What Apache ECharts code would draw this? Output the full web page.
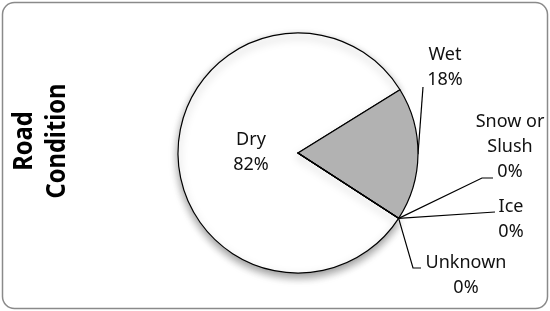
<!DOCTYPE html>
<html>
<head>
<meta charset="utf-8">
<script src="https://cdn.jsdelivr.net/npm/echarts@6/dist/echarts.min.js"></script>
<style>
  html, body { margin: 0; padding: 0; background: #fff; }
  #main { width: 550px; height: 311px; }
</style>
</head>
<body>
<div id="main"></div>
<script>
// data
var categories = ["Dry", "Wet", "Snow or\nSlush", "Ice", "Unknown"];
var values = [82, 18, 0, 0, 0];
var colors = ["#ffffff", "#b2b2b2", "#ffffff", "#ffffff", "#ffffff"];

// where each label sits (px), and leader line bend relative to label centre
var labelPos = [
  { x: 251, y: 152 },
  { x: 445, y: 67 },
  { x: 510, y: 147 },
  { x: 511, y: 219 },
  { x: 466, y: 275 }
];
var leader = [
  null,
  [[-22, 20]],
  [[-28, 31], [-17, 31]],
  [[-16, -7]],
  [[-53, -7], [-45, -7]]
];

var myChart = echarts.init(document.getElementById("main"));

var option = {
  animation: false,
  textStyle: { fontFamily: "Noto Sans" },
  graphic: [
    {
      type: "rect",
      shape: { x: 2.5, y: 2.5, width: 545, height: 306, r: 12 },
      style: { fill: "none", stroke: "#8a8a8a", lineWidth: 1.5 },
      z: 0
    },
    {
      type: "text",
      x: 41,
      y: 141,
      rotation: Math.PI / 2,
      scaleX: 0.91,
      style: {
        text: "Road\nCondition",
        font: "bold 26px 'Noto Sans'",
        lineHeight: 33,
        align: "center",
        verticalAlign: "middle",
        fill: "#000"
      }
    }
  ],
  series: [
    {
      type: "pie",
      center: [298, 153],
      radius: 120,
      startAngle: -33,
      clockwise: true,
      avoidLabelOverlap: false,
      itemStyle: {
        borderColor: "#000",
        borderWidth: 1.2
      },
      label: {
        show: true,
        formatter: "{b}\n{d}%",
        fontSize: 18,
        lineHeight: 25,
        color: "#111",
        fontFamily: "Noto Sans"
      },
      labelLine: {
        show: true,
        length: 20,
        length2: 10,
        lineStyle: { color: "#000", width: 1.2 }
      },
      labelLayout: function (params) {
        var i = params.dataIndex;
        var p = labelPos[i];
        var out = { x: p.x, y: p.y, align: "center", verticalAlign: "middle" };
        if (leader[i] && params.labelLinePoints) {
          var pts = [params.labelLinePoints[0].slice()];
          leader[i].forEach(function (d) {
            pts.push([p.x + d[0], p.y + d[1]]);
          });
          out.labelLinePoints = pts;
        }
        return out;
      },
      emphasis: { disabled: true },
      data: categories.map(function (c, i) {
        var item = {
          name: c,
          value: values[i],
          itemStyle: { color: colors[i] }
        };
        if (i === 0) {
          item.itemStyle.shadowBlur = 8;
          item.itemStyle.shadowOffsetY = 4;
          item.itemStyle.shadowColor = "rgba(0,0,0,0.4)";
          item.labelLine = { show: false };
        }
        return item;
      })
    }
  ]
};

option && myChart.setOption(option);
</script>
</body>
</html>
